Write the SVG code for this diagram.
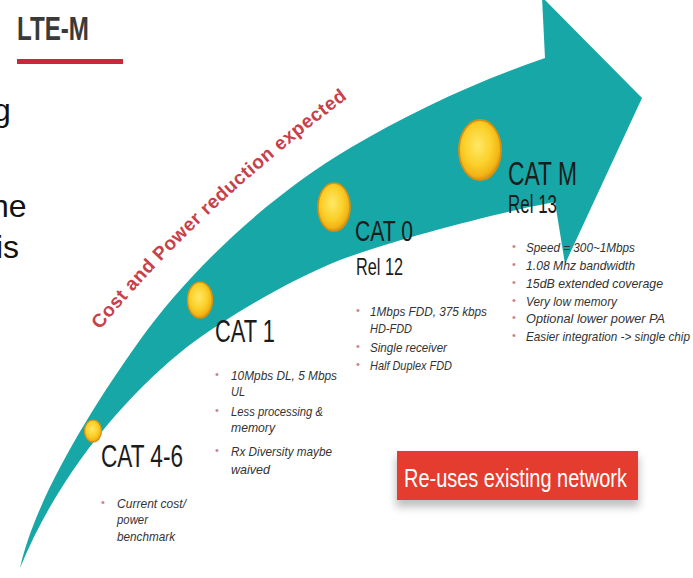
<svg xmlns="http://www.w3.org/2000/svg" width="693" height="578" viewBox="0 0 693 578">
  <style>
    .side { font-family: "Liberation Sans", Arial, sans-serif; font-size: 32px; fill: #111; }
    .cat { font-family: "Liberation Sans", Arial, sans-serif; fill: #1b1b1b; }
    .bl { font-family: "Liberation Sans", Arial, sans-serif; font-style: italic; font-size: 13px; fill: #333; }
    .dot { font-family: "Liberation Sans", Arial, sans-serif; font-size: 11px; fill: #c9828f; }
  </style>
  <defs>
    <radialGradient id="coin" cx="0.45" cy="0.42" r="0.6">
      <stop offset="0" stop-color="#ffe866"/>
      <stop offset="0.55" stop-color="#fbd02a"/>
      <stop offset="0.85" stop-color="#f1b516"/>
      <stop offset="1" stop-color="#d98a0c"/>
    </radialGradient>
    <filter id="shadow" x="-10%" y="-30%" width="120%" height="170%">
      <feGaussianBlur stdDeviation="4"/>
    </filter>
    <path id="curve" d="M 100 330 Q 200 208 352 95"/>
  </defs>

  <rect width="693" height="578" fill="#ffffff"/>

  <!-- heading -->
  <g id="title">
    <text x="17" y="40" font-family="Liberation Sans, Arial, sans-serif" font-weight="bold" font-size="33" fill="#3a3a3a" textLength="72" lengthAdjust="spacingAndGlyphs">LTE-M</text>
    <rect x="17" y="59" width="106" height="5" fill="#c8283a"/>
  </g>

  <!-- sentence fragments cut off at the left edge -->
  <g id="side-text">
    <text class="side" x="-7" y="121">g</text>
    <text class="side" x="-9" y="217">he</text>
    <text class="side" x="-4" y="258">is</text>
  </g>

  <!-- the rising arrow -->
  <g id="connectors">
    <path fill="#17a7a6" d="M 545 58 L 542 -3 L 642 98 L 565 264 L 555 202
      C 500 212 400 238 340 260
      C 290 280 230 315 187 347
      C 130 392 60 470 20 568
      C 35 500 90 410 140 340
      C 190 270 270 195 350 148
      C 410 112 480 80 545 58 Z"/>
    <text font-family="Liberation Sans, Arial, sans-serif" font-weight="bold" font-size="19" fill="#c8404a">
      <textPath href="#curve" textLength="340" lengthAdjust="spacing">Cost and Power reduction expected</textPath>
    </text>
  </g>

  <!-- CAT 4-6 -->
  <g id="cat46">
    <ellipse cx="93" cy="431" rx="8.5" ry="11" fill="url(#coin)" stroke="#d8900f" stroke-width="1.2"/>
    <text class="cat" x="101" y="467" font-size="32" textLength="82" lengthAdjust="spacingAndGlyphs">CAT 4-6</text>
    <text class="dot" x="101" y="506">•</text>
    <text class="bl" x="117" y="508" textLength="69" lengthAdjust="spacingAndGlyphs">Current cost/</text>
    <text class="bl" x="117" y="524" textLength="31" lengthAdjust="spacingAndGlyphs">power</text>
    <text class="bl" x="117" y="541" textLength="58" lengthAdjust="spacingAndGlyphs">benchmark</text>
  </g>

  <!-- CAT 1 -->
  <g id="cat1">
    <ellipse cx="200" cy="300" rx="12.5" ry="18" fill="url(#coin)" stroke="#d8900f" stroke-width="1.4"/>
    <text class="cat" x="215" y="342" font-size="32" textLength="60" lengthAdjust="spacingAndGlyphs">CAT 1</text>
    <text class="dot" x="215" y="378">•</text>
    <text class="bl" x="231" y="380" textLength="106" lengthAdjust="spacingAndGlyphs">10Mpbs DL, 5 Mbps</text>
    <text class="bl" x="231" y="396" textLength="14" lengthAdjust="spacingAndGlyphs">UL</text>
    <text class="dot" x="215" y="414">•</text>
    <text class="bl" x="231" y="416" textLength="92" lengthAdjust="spacingAndGlyphs">Less processing &amp;</text>
    <text class="bl" x="231" y="432" textLength="44" lengthAdjust="spacingAndGlyphs">memory</text>
    <text class="dot" x="215" y="454">•</text>
    <text class="bl" x="231" y="456" textLength="101" lengthAdjust="spacingAndGlyphs">Rx Diversity maybe</text>
    <text class="bl" x="231" y="474" textLength="39" lengthAdjust="spacingAndGlyphs">waived</text>
  </g>

  <!-- CAT 0 -->
  <g id="cat0">
    <ellipse cx="334" cy="207" rx="16" ry="24" fill="url(#coin)" stroke="#d8900f" stroke-width="1.6"/>
    <text class="cat" x="355" y="241" font-size="29" textLength="58" lengthAdjust="spacingAndGlyphs">CAT 0</text>
    <text class="cat" x="356" y="275" font-size="24" textLength="47" lengthAdjust="spacingAndGlyphs">Rel 12</text>
    <text class="dot" x="356" y="314">•</text>
    <text class="bl" x="370" y="316" textLength="117" lengthAdjust="spacingAndGlyphs">1Mbps FDD, 375 kbps</text>
    <text class="bl" x="370" y="333" textLength="42" lengthAdjust="spacingAndGlyphs">HD-FDD</text>
    <text class="dot" x="356" y="350">•</text>
    <text class="bl" x="370" y="352" textLength="77" lengthAdjust="spacingAndGlyphs">Single receiver</text>
    <text class="dot" x="356" y="368">•</text>
    <text class="bl" x="370" y="370" textLength="82" lengthAdjust="spacingAndGlyphs">Half Duplex FDD</text>
  </g>

  <!-- CAT M -->
  <g id="catm">
    <ellipse cx="480" cy="150" rx="21" ry="30" fill="url(#coin)" stroke="#d8900f" stroke-width="1.8"/>
    <text class="cat" x="508" y="185" font-size="34" textLength="69" lengthAdjust="spacingAndGlyphs">CAT M</text>
    <text class="cat" x="508" y="213" font-size="25" textLength="49" lengthAdjust="spacingAndGlyphs">Rel 13</text>
    <text class="dot" x="512" y="250">•</text>
    <text class="bl" x="526" y="252" textLength="109" lengthAdjust="spacingAndGlyphs">Speed = 300~1Mbps</text>
    <text class="dot" x="512" y="268">•</text>
    <text class="bl" x="526" y="270" textLength="109" lengthAdjust="spacingAndGlyphs">1.08 Mhz bandwidth</text>
    <text class="dot" x="512" y="286">•</text>
    <text class="bl" x="526" y="288" textLength="137" lengthAdjust="spacingAndGlyphs">15dB extended coverage</text>
    <text class="dot" x="512" y="304">•</text>
    <text class="bl" x="526" y="306" textLength="91" lengthAdjust="spacingAndGlyphs">Very low memory</text>
    <text class="dot" x="512" y="321">•</text>
    <text class="bl" x="526" y="323" textLength="139" lengthAdjust="spacingAndGlyphs">Optional lower power PA</text>
    <text class="dot" x="512" y="339">•</text>
    <text class="bl" x="526" y="341" textLength="164" lengthAdjust="spacingAndGlyphs">Easier integration -&gt; single chip</text>
  </g>

  <!-- red call-out -->
  <g id="reuse">
    <rect x="396" y="457" width="243" height="50" fill="#8a8a8a" opacity="0.55" filter="url(#shadow)"/>
    <rect x="397" y="451" width="241" height="49" fill="#e43c2e"/>
    <text x="404" y="487" font-family="Liberation Sans, Arial, sans-serif" font-size="25" fill="#ffffff" textLength="223" lengthAdjust="spacingAndGlyphs">Re-uses existing network</text>
  </g>
</svg>
